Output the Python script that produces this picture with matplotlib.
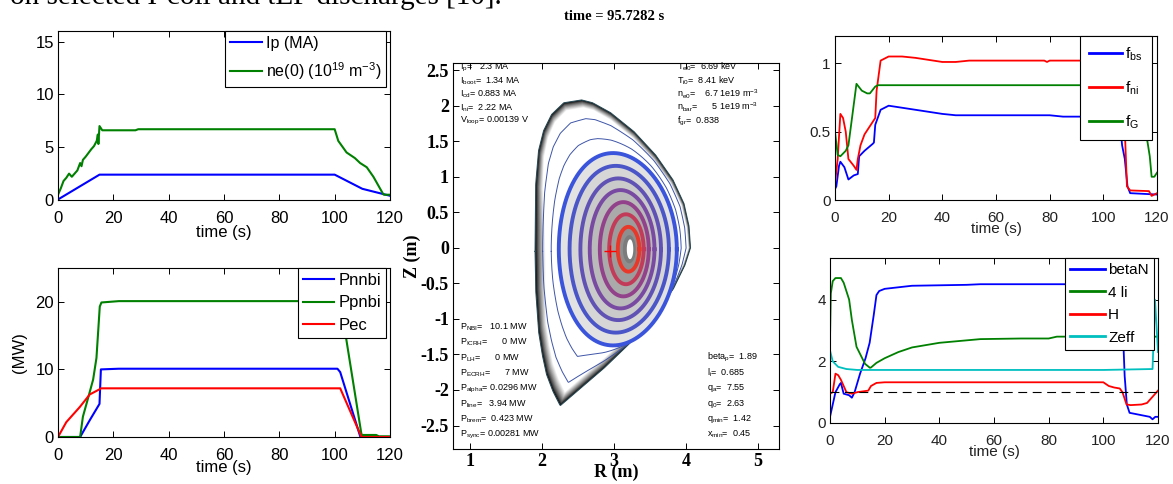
import numpy as np
import matplotlib
matplotlib.use("Agg")
import matplotlib.pyplot as plt

plt.rcParams['font.family'] = ['Liberation Sans', 'DejaVu Sans']
plt.rcParams['mathtext.default'] = 'regular'
plt.rcParams['axes.unicode_minus'] = False

BLUE, GREEN, RED, CYAN = '#0000ff', '#008000', '#ff0000', '#00bfbf'

# ---- top-left: plasma current and central density
t_ip = [0, 15, 100, 110, 120]
ip = [0.05, 2.4, 2.4, 1.06, 0.4]
t_ne = [0, 1, 2, 3, 4, 5, 6, 7, 8, 8.5, 9, 10, 12, 13, 14, 14.4, 14.6, 15, 16, 28, 29,
        100, 101.3, 104.3, 107.3, 109.2, 111.6, 114, 117.6, 118, 120]
ne0 = [0.5, 1.1, 1.8, 2.1, 2.5, 2.2, 2.5, 2.8, 3.5, 3.2, 3.8, 4.1, 4.8, 5.1, 5.6, 6.2, 5.3, 7.0, 6.6, 6.6, 6.7,
       6.7, 5.6, 4.5, 3.97, 3.5, 3.1, 2.2, 0.53, 0.5, 0.5]

# ---- bottom-left: heating powers (MW)
t_nnbi = [0, 8, 11.5, 15, 15.5, 22, 101, 102, 109.3, 120]
p_nnbi = [0, 0, 2.5, 4.9, 10.0, 10.1, 10.1, 9.6, 0, 0]
t_pnbi = [0, 8, 9, 10.9, 12.7, 13.9, 15.1, 15.7, 22, 102, 109.7, 110, 115, 116, 120]
p_pnbi = [0, 0, 3.0, 5.8, 8.5, 11.7, 19.3, 19.9, 20.1, 20.1, 0.35, 0.3, 0.3, 0.1, 0.1]
t_pec = [0, 3, 7.8, 11.5, 15, 15.5, 102, 109.7, 120]
p_pec = [0, 2.2, 4.4, 6.3, 7.05, 7.2, 7.2, 0, 0]

# ---- top-right: current fractions
t_fbs = [0, 0.5, 1.5, 2, 3.5, 5, 7, 8.5, 9, 11, 14, 14.5, 15, 17, 20, 30, 40, 45, 80, 85, 100, 106, 107, 108, 109, 110, 120]
f_bs = [0.08, 0.1, 0.25, 0.28, 0.24, 0.15, 0.18, 0.19, 0.32, 0.36, 0.41, 0.42, 0.55, 0.66, 0.69, 0.66, 0.63, 0.62,
        0.62, 0.61, 0.61, 0.6, 0.4, 0.3, 0.1, 0.05, 0.04]
t_fni = [0, 1, 2, 3, 4, 5, 7, 8, 8.5, 9.5, 11, 14, 15, 15.5, 17, 20, 25, 30, 40, 45, 50, 78, 79, 80, 107,
         108.2, 108.8, 110, 117, 118, 120]
f_ni = [0.12, 0.3, 0.63, 0.6, 0.5, 0.3, 0.25, 0.22, 0.3, 0.4, 0.48, 0.57, 0.6, 0.8, 1.02, 1.05, 1.05, 1.04, 1.01,
        1.01, 1.02, 1.02, 1.01, 1.02, 1.02, 0.41, 0.1, 0.07, 0.065, 0.03, 0.05]
t_fg = [0, 1, 2, 4, 5, 8, 10, 12, 13, 15, 16, 110, 114, 116.5, 117.3, 118, 119, 120]
f_g = [0.5, 0.33, 0.32, 0.36, 0.4, 0.85, 0.8, 0.78, 0.78, 0.83, 0.84, 0.84, 0.7, 0.42, 0.32, 0.17, 0.17, 0.2]

# ---- bottom-right: betaN, 4 li, H, Zeff
t_bn = [0, 1, 2, 3.6, 4, 5, 7, 8, 9, 11, 13, 14.5, 16, 17, 18, 20, 30, 50, 55, 80, 106.5, 107.8, 108.6, 109.6,
        117, 118, 119, 120]
beta_n = [0.2, 0.6, 1.0, 1.26, 1.3, 0.95, 0.9, 0.82, 1.0, 1.6, 2.1, 2.6, 3.5, 4.15, 4.28, 4.35, 4.45, 4.48, 4.5,
          4.5, 4.5, 1.53, 0.6, 0.33, 0.2, 0.12, 0.2, 0.2]
t_li = [0, 0.3, 1, 2, 4, 5, 7, 8, 9.7, 12.8, 14.6, 15, 17, 20, 25, 30, 40, 50, 55, 70, 80, 83, 106, 108, 120]
li4 = [2.7, 4.2, 4.6, 4.7, 4.7, 4.55, 4.0, 3.34, 2.47, 1.92, 1.79, 1.8, 1.95, 2.1, 2.3, 2.45, 2.6, 2.68, 2.72, 2.74,
       2.74, 2.8, 2.8, 2.8, 2.8]
t_h = [0, 1, 2, 3, 4, 5, 6, 8, 10, 14, 15, 17, 20, 100, 102, 104, 106, 107, 108.5, 110, 114, 116, 118, 120]
h_fac = [0.95, 1.0, 1.6, 1.55, 1.4, 1.2, 1.0, 0.95, 1.0, 1.05, 1.2, 1.3, 1.32, 1.32, 1.2, 1.15, 1.12, 1.0, 0.6,
         0.58, 0.6, 0.65, 0.85, 1.05]
t_z = [0, 1, 3, 6, 10, 100, 118, 118.9, 120]
zeff = [2.35, 2.0, 1.82, 1.75, 1.72, 1.72, 1.75, 4.0, 2.3]

# ---- equilibrium: last closed flux surface (R, Z) in m
bnd_R = [4.06, 4.04, 3.97, 3.82, 3.58, 3.28, 2.95, 2.70, 2.55, 2.30, 2.13, 2.02, 1.95, 1.91, 1.90, 1.91, 1.95,
         2.00, 2.06, 2.15, 2.25, 2.55, 2.85, 3.20, 3.54, 3.82, 3.98]
bnd_Z = [0.00, 0.30, 0.62, 0.95, 1.30, 1.63, 1.90, 2.04, 2.08, 2.04, 1.875, 1.65, 1.37, 0.90, 0.00, -0.60,
         -1.18, -1.50, -1.78, -2.02, -2.22, -1.96, -1.70, -1.36, -0.98, -0.58, -0.25]
# inner flux surfaces (Miller shape), outermost first
ring_Rc = [3.05, 3.07, 3.09, 3.11, 3.14, 3.17, 3.20]
ring_a = [0.82, 0.69, 0.56, 0.45, 0.34, 0.24, 0.15]
ring_kappa = [1.65, 1.70, 1.78, 1.85, 1.95, 2.05, 2.10]
ring_delta = [0.08, 0.07, 0.06, 0.05, 0.04, 0.03, 0.02]
ring_color = ['#3a55dc', '#4a56c8', '#6052b4', '#784aa2', '#92428a', '#c23c5a', '#e8382a']
ring_fill = ['#e2e2e2', '#d6d6d6', '#cacaca', '#bababa', '#aaaaaa', '#9c9c9c', '#8e8e8e']
Z_AXIS = -0.02
R_CORE = 3.22
R_CROSS, Z_CROSS = 2.94, -0.04
# thickness of the dark shading inside the boundary, vs poloidal angle
band_phi = [0, 45, 90, 135, 180, 225, 251, 290, 330, 360]
band_depth = [0.03, 0.05, 0.10, 0.13, 0.14, 0.15, 0.20, 0.06, 0.03, 0.03]
thin_t = [0.68, 0.32]

text_tl = ['I$_p$=   2.3 MA', 'I$_{boot}$=  1.34 MA', 'I$_{cd}$= 0.883 MA', 'I$_{ni}$=  2.22 MA',
           'V$_{loop}$= 0.00139 V']
text_tr = ['T$_{e0}$=  6.69 keV', 'T$_{i0}$=  8.41 keV', 'n$_{e0}$=    6.7 1e19 m$^{-3}$',
           'n$_{bar}$=      5 1e19 m$^{-3}$', 'f$_{gr}$=  0.838']
text_bl = ['P$_{NBI}$=   10.1 MW', 'P$_{ICRH}$=      0 MW', 'P$_{LH}$=      0 MW', 'P$_{ECRH}$=      7 MW',
           'P$_{alpha}$= 0.0296 MW', 'P$_{line}$=   3.94 MW', 'P$_{brem}$=  0.423 MW', 'P$_{sync}$= 0.00281 MW']
text_br = ['beta$_p$=  1.89', 'l$_i$=  0.685', 'q$_a$=  7.55', 'q$_0$=  2.63', 'q$_{min}$=  1.42',
           'x$_{min}$=  0.45']

W, H = 1173, 484
fig = plt.figure(figsize=(W / 100, H / 100), dpi=100)


def px_axes(l, t, r, b):
    return fig.add_axes([l / W, 1 - b / H, (r - l) / W, (b - t) / H])


def style(ax, fs, color='black'):
    ax.tick_params(direction='in', top=True, right=True, length=4, width=0.7,
                   labelsize=fs, labelcolor=color)
    ax.tick_params(axis='x', pad=8)
    ax.tick_params(axis='y', pad=3)
    for s in ax.spines.values():
        s.set_linewidth(0.8)


def legend(ax, fs, anchor, **kw):
    lg = ax.legend(loc='upper right', bbox_to_anchor=anchor, borderaxespad=0, fontsize=fs,
                   fancybox=False, framealpha=1, edgecolor='black', **kw)
    lg.get_frame().set_linewidth(0.8)
    return lg


# cropped line of the surrounding page
fig.text(10 / W, 1 - 3.5 / H, 'on selected I-coil and tEF discharges [10].', fontsize=21,
         family='Liberation Serif', va='baseline', ha='left')

# ---------- top-left
ax = px_axes(58, 31, 390, 200)
ax.plot(t_ip, ip, color=BLUE, lw=1.5, label='Ip (MA)')
ax.plot(t_ne, ne0, color=GREEN, lw=1.5, label='ne(0) (10$^{19}$ m$^{-3}$)')
ax.set_xlim(0, 120); ax.set_ylim(0, 16)
ax.set_xticks(range(0, 121, 20)); ax.set_yticks([0, 5, 10, 15])
style(ax, 12)
ax.set_xlabel('time (s)', fontsize=12, labelpad=-1)
legend(ax, 11.5, (0.988, 1.0), handlelength=2.0, handletextpad=0.25, labelspacing=0.6, borderpad=0.3)

# ---------- bottom-left
ax = px_axes(58, 268, 390, 437)
ax.plot(t_nnbi, p_nnbi, color=BLUE, lw=1.5, label='Pnnbi')
ax.plot(t_pnbi, p_pnbi, color=GREEN, lw=1.5, label='Ppnbi')
ax.plot(t_pec, p_pec, color=RED, lw=1.5, label='Pec')
ax.set_xlim(0, 120); ax.set_ylim(0, 25)
ax.set_xticks(range(0, 121, 20)); ax.set_yticks([0, 10, 20])
style(ax, 12)
ax.set_xlabel('time (s)', fontsize=12, labelpad=-2)
ax.set_ylabel('(MW)', fontsize=12, labelpad=6)
legend(ax, 12, (0.988, 1.0), handlelength=1.9, handletextpad=0.25, labelspacing=0.45, borderpad=0.3)

# ---------- top-right
ax = px_axes(835, 36, 1157, 200)
ax.plot(t_fbs, f_bs, color=BLUE, lw=1.3, label='f$_{bs}$')
ax.plot(t_fni, f_ni, color=RED, lw=1.3, label='f$_{ni}$')
ax.plot(t_fg, f_g, color=GREEN, lw=1.3, label='f$_G$')
ax.set_xlim(0, 120); ax.set_ylim(0, 1.2)
ax.set_xticks(range(0, 121, 20)); ax.set_yticks([0, 0.5, 1])
ax.set_yticklabels(['0', '0.5', '1'])
style(ax, 11, '#222222')
ax.set_xlabel('time (s)', fontsize=11, labelpad=-2, color='#222222')
lg = legend(ax, 11, (0.984, 1.0), handlelength=2.2, handletextpad=0.2, labelspacing=1.1, borderpad=0.6)
for ln in lg.get_lines():
    ln.set_linewidth(2)

# ---------- bottom-right
ax = px_axes(830, 258, 1158, 423)
ax.plot(t_bn, beta_n, color=BLUE, lw=1.3, label='betaN')
ax.plot(t_li, li4, color=GREEN, lw=1.3, label='4 li')
ax.plot(t_h, h_fac, color=RED, lw=1.3, label='H')
ax.plot(t_z, zeff, color=CYAN, lw=1.3, label='Zeff')
ax.axhline(1.0, color='black', lw=0.8, ls=(0, (8, 5)))
ax.set_xlim(0, 120); ax.set_ylim(0, 5.35)
ax.set_xticks(range(0, 121, 20)); ax.set_yticks([0, 2, 4])
style(ax, 11, '#222222')
ax.set_xlabel('time (s)', fontsize=11, labelpad=-2, color='#222222')
lg = legend(ax, 11, (0.988, 1.0), handlelength=2.3, handletextpad=0.2, labelspacing=0.55, borderpad=0.35)
for ln in lg.get_lines():
    ln.set_linewidth(2)

# ---------- centre: equilibrium
axc = px_axes(453, 63, 779, 449)
C_R, C_Z = 3.0, -0.05
phi = np.linspace(-np.pi, np.pi, 1441)


def polar_r(R, Z):
    R = np.append(R, R[0]); Z = np.append(Z, Z[0])
    s = np.concatenate([[0], np.cumsum(np.hypot(np.diff(R), np.diff(Z)))])
    ss = np.linspace(0, s[-1], 3000)
    Rs, Zs = np.interp(ss, s, R), np.interp(ss, s, Z)
    ph = np.arctan2(Zs - C_Z, Rs - C_R)
    rr = np.hypot(Rs - C_R, Zs - C_Z)
    o = np.argsort(ph)
    return np.interp(phi, ph[o], rr[o], period=2 * np.pi)


def xy(r):
    return C_R + r * np.cos(phi), C_Z + r * np.sin(phi)


def miller(Rc, a, k, d, n=400):
    th = np.linspace(0, 2 * np.pi, n)
    return Rc + a * np.cos(th + np.arcsin(d) * np.sin(th)), Z_AXIS + k * a * np.sin(th)


r_b = polar_r(np.array(bnd_R), np.array(bnd_Z))
r_e = polar_r(*miller(ring_Rc[0], ring_a[0], ring_kappa[0], ring_delta[0]))
depth = np.interp(np.degrees(phi) % 360, band_phi, band_depth)

N = 14
for k in range(N + 1):
    g = min(1.0, (k / N) ** 0.75)
    axc.fill(*xy(r_b - depth * k / N), color=(g, g, g), lw=0, zorder=1)
axc.plot(*xy(r_b), color='#2a4a55', lw=0.8, zorder=2)
for t in thin_t:
    axc.plot(*xy(r_e + t * (r_b - r_e)), color='#3e55a8', lw=0.7, zorder=3)

for Rc, a, k, d, fc in zip(ring_Rc, ring_a, ring_kappa, ring_delta, ring_fill):
    axc.fill(*miller(Rc, a, k, d), color=fc, lw=0, zorder=3)
axc.fill(*miller(R_CORE - 0.01, 0.09, 2.2, 0.0), color='#7c7c7c', lw=0, zorder=3)
axc.fill(*miller(R_CORE, 0.045, 3.1, 0.0), color='white', lw=0, zorder=3)
for Rc, a, k, d, c in zip(ring_Rc, ring_a, ring_kappa, ring_delta, ring_color):
    axc.plot(*miller(Rc, a, k, d), color=c, lw=2.8, zorder=4)
axc.plot([R_CROSS], [Z_CROSS], marker='+', color='red', ms=9, mew=1, zorder=5)

axc.set_xlim(0.76, 5.29); axc.set_ylim(-2.83, 2.6)
xt = [1, 2, 3, 4, 5]
yt = [-2.5, -2, -1.5, -1, -0.5, 0, 0.5, 1, 1.5, 2, 2.5]
axc.set_xticks(xt); axc.set_yticks(yt)
serif = dict(family='Liberation Serif', weight='bold', size=13)
axc.set_xticklabels(['%g' % v for v in xt], fontdict=serif)
axc.set_yticklabels(['%g' % v for v in yt], fontdict=serif)
axc.tick_params(direction='in', top=True, right=True, length=4, width=0.7, pad=3)
for s in axc.spines.values():
    s.set_linewidth(0.8)
axc.set_xlabel('R (m)', fontdict=serif, labelpad=-5)
axc.set_ylabel('Z (m)', fontdict=serif, labelpad=0)
fig.text(614 / W, 1 - 17 / H, 'time = 95.7282 s', family='Liberation Serif', weight='bold',
         fontsize=10.5, ha='center', va='center')


def block(lines, xpx, ypx, step):
    for i, s in enumerate(lines):
        axc.text((xpx - 453) / 326, (449 - (ypx + i * step)) / 386, s, transform=axc.transAxes,
                 fontsize=6.5, va='center', ha='left', zorder=6)


block(text_tl, 460, 67, 13.6)
block(text_tr, 677, 67, 13.6)
block(text_bl, 460, 327, 15.4)
block(text_br, 707, 357, 15.5)

fig.savefig('out.png', dpi=100)
print('wrote out.png')
